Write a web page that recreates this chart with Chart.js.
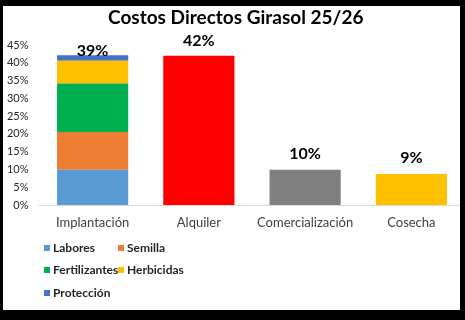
<!DOCTYPE html>
<html>
<head>
<meta charset="utf-8">
<script src="https://cdn.jsdelivr.net/npm/chart.js@4.4.1/dist/chart.umd.min.js"></script>
<style>
  html, body { margin: 0; padding: 0; background: #fff; }
  #wrap { position: relative; width: 465px; height: 320px; overflow: hidden; }
  #wrap canvas { position: absolute; left: 0; top: 0; }
  #frame {
    position: absolute; inset: 0; pointer-events: none;
    border-style: solid; border-color: #000;
    border-width: 6px 5px 10px 3px;
  }
</style>
</head>
<body>
<div id="wrap">
  <div style="position:absolute;left:0;top:0;width:478px;height:320px;">
    <canvas id="chart"></canvas>
  </div>
  <div id="frame"></div>
</div>
<script>
const categories = ['Implantación', 'Alquiler', 'Comercialización', 'Cosecha'];

// Implantación breakdown (%)
const labores = [9.9, null, null, null];
const semilla = [10.6, null, null, null];
const fertilizantes = [13.7, null, null, null];
const herbicidas = [6.4, null, null, null];
const proteccion = [1.5, null, null, null];

// other cost items (%)
const otros = [null, 42, 9.9, 8.7];

// labels printed above each column
const totalValues = [39, 42, 10, 9];
const totalLabels = ['39%', '42%', '10%', '9%'];

const yTicks = [0, 5, 10, 15, 20, 25, 30, 35, 40, 45];

const FONT = 'Lato, "Open Sans", sans-serif';

const datasets = [
  { label: 'Labores', data: labores, backgroundColor: '#5B9BD5' },
  { label: 'Semilla', data: semilla, backgroundColor: '#ED7D31' },
  { label: 'Fertilizantes', data: fertilizantes, backgroundColor: '#00B050' },
  { label: 'Herbicidas', data: herbicidas, backgroundColor: '#FFC000' },
  { label: 'Protección', data: proteccion, backgroundColor: '#4472C4' },
  { label: 'Otros', data: otros, backgroundColor: ['#FF0000', '#FF0000', '#808080', '#FFC000'], hideInLegend: true }
];

// value labels over columns
const topLabels = {
  id: 'topLabels',
  afterDatasetsDraw(chart) {
    const ctx = chart.ctx;
    const x = chart.scales.x;
    const y = chart.scales.y;
    ctx.save();
    ctx.font = 'bold 16px ' + FONT;
    ctx.fillStyle = '#000';
    ctx.textAlign = 'center';
    ctx.textBaseline = 'alphabetic';
    totalValues.forEach((v, i) => {
      ctx.fillText(totalLabels[i], x.getPixelForValue(i), y.getPixelForValue(v) - 10);
    });
    ctx.restore();
  }
};

// two-column legend below the axis
const gridLegend = {
  id: 'gridLegend',
  afterDraw(chart) {
    const ctx = chart.ctx;
    const items = chart.data.datasets.filter(d => !d.hideInLegend);
    const cols = [44, 118];
    const rows = [248, 270, 293];
    ctx.save();
    ctx.font = 'bold 12px ' + FONT;
    ctx.textBaseline = 'middle';
    ctx.textAlign = 'left';
    items.forEach((d, i) => {
      const cx = cols[i % 2];
      const cy = rows[Math.floor(i / 2)];
      ctx.fillStyle = d.backgroundColor;
      ctx.fillRect(cx, cy - 3, 6, 6);
      ctx.fillStyle = '#262626';
      ctx.fillText(d.label, cx + 9, cy);
    });
    ctx.restore();
  }
};

const ctx = document.getElementById('chart').getContext('2d');

const chart = new Chart(ctx, {
  type: 'bar',
  data: {
    labels: categories,
    datasets: datasets
  },
  options: {
    responsive: true,
    maintainAspectRatio: false,
    animation: false,
    layout: {
      padding: { left: 7, right: 13.5, top: 0, bottom: 89 }
    },
    datasets: {
      bar: { categoryPercentage: 1, barPercentage: 0.67, skipNull: true }
    },
    scales: {
      x: {
        stacked: true,
        grid: { display: false, drawTicks: false },
        border: { display: true, color: '#D9D9D9', width: 1 },
        ticks: { color: '#404040', font: { family: FONT, size: 13 }, padding: 10 },
        afterFit: (axis) => { axis.height = 26; }
      },
      y: {
        stacked: true,
        min: 0,
        max: 45,
        afterBuildTicks: (axis) => { axis.ticks = yTicks.map(v => ({ value: v })); },
        grid: { display: false, drawTicks: false },
        border: { display: false },
        ticks: {
          color: '#262626',
          font: { family: FONT, size: 11 },
          padding: 11,
          callback: (value) => value + '%'
        },
        afterFit: (axis) => { axis.width = 32.5; }
      }
    },
    plugins: {
      legend: { display: false },
      tooltip: { enabled: false },
      title: {
        display: true,
        text: 'Costos Directos Girasol 25/26',
        color: '#000',
        font: { family: FONT, size: 19, weight: 'bold' },
        padding: { top: 6, bottom: 16.2 }
      }
    }
  },
  plugins: [topLabels, gridLegend]
});
</script>
</body>
</html>
